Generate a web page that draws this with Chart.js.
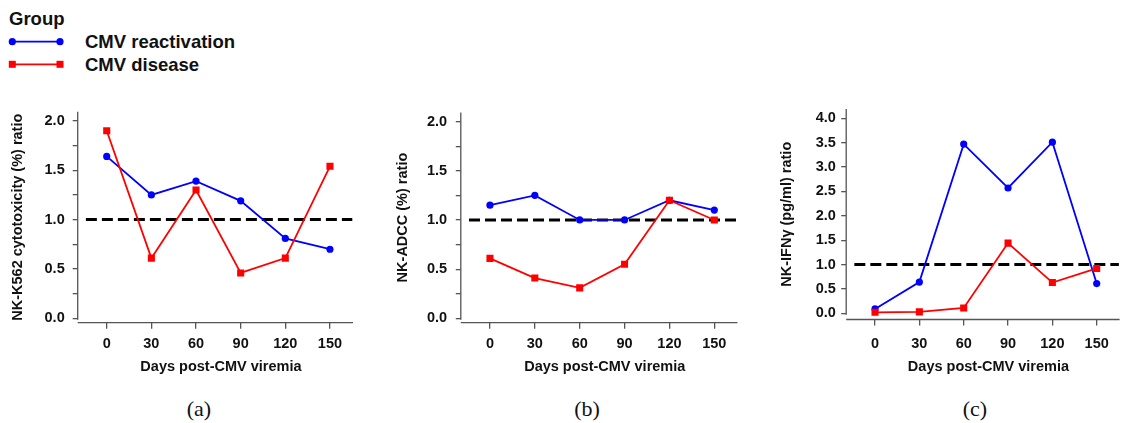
<!DOCTYPE html>
<html>
<head>
<meta charset="utf-8">
<script src="https://cdn.jsdelivr.net/npm/chart.js@4.4.1/dist/chart.umd.min.js"></script>
<style>
  html, body { margin: 0; padding: 0; background: #fff; overflow: hidden; width: 1124px; height: 423px; }
  body { position: relative; font-family: "Liberation Sans", Arial, sans-serif; color: #111; }
  .panel { position: absolute; top: 95px; height: 290px; }
  .lg { position: absolute; font-size: 18.5px; font-weight: bold; line-height: 18.5px; white-space: nowrap; }
  .cap { position: absolute; top: 395px; width: 60px; text-align: center; font-family: "Liberation Serif", serif; font-size: 22px; line-height: 28px; }
</style>
</head>
<body>

<div class="lg" style="left:9px;top:10px">Group</div>
<svg style="position:absolute;left:0;top:30px" width="75" height="45">
  <line x1="12.3" y1="11.7" x2="60" y2="11.7" stroke="#0000ff" stroke-width="1.8"/>
  <circle cx="12.3" cy="11.7" r="3.6" fill="#0000ff"/>
  <circle cx="60" cy="11.7" r="3.6" fill="#0000ff"/>
  <line x1="12.3" y1="34.3" x2="60" y2="34.3" stroke="#ff0000" stroke-width="1.8"/>
  <rect x="8.8" y="30.8" width="7" height="7" fill="#ff0000"/>
  <rect x="56.5" y="30.8" width="7" height="7" fill="#ff0000"/>
</svg>
<div class="lg" style="left:85px;top:32.7px">CMV reactivation</div>
<div class="lg" style="left:85px;top:56px">CMV disease</div>

<div class="panel" style="left:0px;width:375px"><canvas id="chartA"></canvas></div>
<div class="panel" style="left:380px;width:380px"><canvas id="chartB"></canvas></div>
<div class="panel" style="left:750px;width:390px"><canvas id="chartC"></canvas></div>

<div class="cap" style="left:169px">(a)</div>
<div class="cap" style="left:557px">(b)</div>
<div class="cap" style="left:945px">(c)</div>

<script>
// days after viremia, same for every panel
const days = [0, 30, 60, 90, 120, 150];

// (a) NK-K562 cytotoxicity ratio
const k562Reactivation = [1.64, 1.25, 1.39, 1.19, 0.81, 0.70];
const k562Disease = [1.90, 0.61, 1.30, 0.46, 0.61, 1.54];

// (b) NK-ADCC ratio
const adccReactivation = [1.15, 1.25, 1.00, 1.00, 1.20, 1.10];
const adccDisease = [0.61, 0.41, 0.31, 0.55, 1.20, 1.00];

// (c) NK-IFNg ratio
const ifngReactivation = [0.09, 0.64, 3.47, 2.57, 3.51, 0.61];
const ifngDisease = [0.02, 0.03, 0.11, 1.44, 0.63, 0.92];

// dashed reference line at ratio 1
const refLevel = 1;
const refFrom = -14;
const refTo = 165;

const yTicksSmall = [0, 0.25, 0.5, 0.75, 1, 1.25, 1.5, 1.75, 2];
const yTicksBig = [0, 0.5, 1, 1.5, 2, 2.5, 3, 3.5, 4];

const xTitle = "Days post-CMV viremia";
const BLUE = "#0000ff";
const RED = "#ff0000";
const AXIS = "#555555";
const TXT = "#111111";
const axisEnd = 165.5;
const FS = 14.5;

Chart.defaults.font.family = '"Liberation Sans", Arial, sans-serif';
Chart.defaults.font.weight = "bold";

function toPoints(xs, ys) {
  return xs.map((x, i) => ({ x: x, y: ys[i] }));
}

// R-style axes: separate lines that don't meet in the corner
const axisLines = {
  id: "axisLines",
  afterDraw(chart) {
    const { ctx, chartArea, scales } = chart;
    ctx.save();
    ctx.strokeStyle = AXIS;
    ctx.lineWidth = 1.3;
    ctx.beginPath();
    ctx.moveTo(chartArea.left, chartArea.top);
    ctx.lineTo(chartArea.left, scales.y.getPixelForValue(0) + 1.5);
    ctx.moveTo(chartArea.left, chartArea.bottom);
    ctx.lineTo(scales.x.getPixelForValue(axisEnd), chartArea.bottom);
    ctx.stroke();
    ctx.restore();
  }
};

function makePanel(id, cfg) {
  return new Chart(document.getElementById(id), {
    type: "line",
    data: {
      datasets: [
        {
          label: "CMV disease",
          data: toPoints(days, cfg.disease),
          borderColor: RED,
          backgroundColor: RED,
          borderWidth: 1.8,
          pointStyle: "rect",
          pointRadius: 5,
          pointBorderWidth: 0,
          order: 1
        },
        {
          label: "CMV reactivation",
          data: toPoints(days, cfg.reactivation),
          borderColor: BLUE,
          backgroundColor: BLUE,
          borderWidth: 1.8,
          pointStyle: "circle",
          pointRadius: 3.6,
          pointBorderWidth: 0,
          order: 2
        },
        {
          label: "ref",
          data: [{ x: refFrom, y: refLevel }, { x: refTo, y: refLevel }],
          borderColor: "#000",
          borderWidth: 3,
          borderDash: [11, 5],
          pointRadius: 0,
          order: 3
        }
      ]
    },
    options: {
      responsive: true,
      maintainAspectRatio: false,
      animation: false,
      layout: { autoPadding: false, padding: { left: 0, top: 14, right: cfg.padRight, bottom: 0 } },
      plugins: { legend: { display: false }, tooltip: { enabled: false } },
      scales: {
        x: {
          type: "linear",
          min: -19.5,
          max: 173,
          afterBuildTicks: (s) => { s.ticks = days.map((v) => ({ value: v })); },
          afterFit: (s) => { s.height = cfg.xHeight; },
          grid: { drawOnChartArea: false, tickLength: 6, color: AXIS, lineWidth: 1.3 },
          border: { display: false },
          ticks: { padding: cfg.xPad, color: TXT, autoSkip: false, maxRotation: 0, font: { size: FS, weight: "bold" }, callback: (v) => v },
          title: { display: true, text: xTitle, color: TXT, font: { size: FS, weight: "bold" }, padding: { top: 0, bottom: 9.3 } }
        },
        y: {
          type: "linear",
          min: cfg.yMin,
          max: cfg.yMax,
          afterBuildTicks: (s) => { s.ticks = cfg.yTicks.map((v) => ({ value: v })); },
          afterFit: (s) => { s.width = cfg.yWidth; },
          grid: { drawOnChartArea: false, tickLength: 5, color: AXIS, lineWidth: 1.3 },
          border: { display: false },
          ticks: {
            padding: cfg.yPad, color: TXT, autoSkip: false, font: { size: FS, weight: "bold" },
            callback: (v) => (Math.abs(v * 2 - Math.round(v * 2)) < 1e-6 ? v.toFixed(1) : "")
          },
          title: { display: true, text: cfg.yTitle, color: TXT, font: { size: FS, weight: "bold" }, padding: { top: cfg.yTitlePad, bottom: 0 } }
        }
      }
    },
    plugins: [axisLines]
  });
}

makePanel("chartA", {
  reactivation: k562Reactivation, disease: k562Disease,
  yTitle: "NK-K562 cytotoxicity (%) ratio", yTicks: yTicksSmall,
  yMin: -0.044, yMax: 2.093, yWidth: 77.7, yPad: 8, yTitlePad: 9.3,
  padRight: 10.8, xHeight: 62.3, xPad: 6.7
});

makePanel("chartB", {
  reactivation: adccReactivation, disease: adccDisease,
  yTitle: "NK-ADCC (%) ratio", yTicks: yTicksSmall,
  yMin: -0.044, yMax: 2.093, yWidth: 80.8, yPad: 8.7, yTitlePad: 14.3,
  padRight: 11.3, xHeight: 62.3, xPad: 6.7
});

makePanel("chartC", {
  reactivation: ifngReactivation, disease: ifngDisease,
  yTitle: "NK-IFNγ (pg/ml) ratio", yTicks: yTicksBig,
  yMin: -0.127, yMax: 4.19, yWidth: 96.2, yPad: 5.3, yTitlePad: 28,
  padRight: 9.3, xHeight: 65.5, xPad: 9.7
});
</script>
</body>
</html>
